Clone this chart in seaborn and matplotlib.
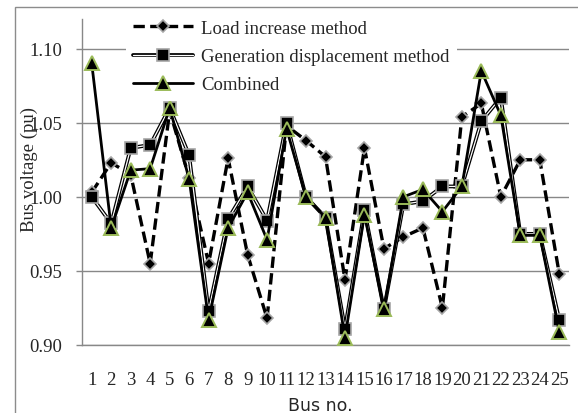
import numpy as np
import pandas as pd
import matplotlib
matplotlib.use("Agg")
import matplotlib.pyplot as plt
import matplotlib.patheffects as pe
from matplotlib.patches import Rectangle
from matplotlib.legend_handler import HandlerTuple
from matplotlib.ticker import FixedLocator, FormatStrFormatter
import seaborn as sns

# Bus voltages (pu)
buses = list(range(1, 26))
load_increase = [1.003, 1.023, 1.015, 0.955, 1.058, 1.013, 0.955, 1.026, 0.961, 0.918,
                 1.048, 1.038, 1.027, 0.944, 1.033, 0.965, 0.973, 0.979, 0.925, 1.054,
                 1.063, 1.000, 1.025, 1.025, 0.948]
gen_displacement = [1.000, 0.982, 1.033, 1.035, 1.060, 1.028, 0.923, 0.985, 1.007, 0.984,
                    1.050, 1.000, 0.986, 0.911, 0.991, 0.924, 0.995, 0.997, 1.007, 1.007,
                    1.051, 1.067, 0.975, 0.975, 0.917]
combined = [1.090, 0.979, 1.018, 1.019, 1.060, 1.012, 0.917, 0.979, 1.003, 0.971,
            1.046, 1.000, 0.986, 0.905, 0.988, 0.924, 1.000, 1.005, 0.990, 1.007,
            1.085, 1.055, 0.974, 0.974, 0.909]
y_ticks = [0.90, 0.95, 1.00, 1.05, 1.10]

df = pd.DataFrame({"bus": buses, "load": load_increase,
                   "gen": gen_displacement, "comb": combined})

sns.set_style("white")
serif = ["Liberation Serif", "DejaVu Serif"]
plt.rcParams["font.family"] = serif
plt.rcParams["font.size"] = 13.5

fig = plt.figure(figsize=(5.78, 4.14), dpi=100)
ax = fig.add_axes([82 / 578, 1 - 346 / 414, 487 / 578, 326 / 414])

grid_col = "#888888"

# load increase: dashed with grey-edged diamonds
sns.lineplot(data=df, x="bus", y="load", ax=ax, color="black", lw=2.4,
             linestyle=(0, (3.4, 1.6)), marker="D", markersize=6.5,
             markerfacecolor="black", markeredgecolor="#a6a6a6",
             markeredgewidth=1.2, zorder=3)
# generation displacement: thin double line, then the square markers
sns.lineplot(data=df, x="bus", y="gen", ax=ax, color="white", lw=0.9,
             path_effects=[pe.Stroke(linewidth=2.7, foreground="black"), pe.Normal()],
             zorder=4)
sns.lineplot(data=df, x="bus", y="gen", ax=ax, linestyle="none",
             marker="s", markersize=8, markerfacecolor="black",
             markeredgecolor="#a6a6a6", markeredgewidth=1.2, zorder=4.5)
# combined: solid with green-edged triangles
sns.lineplot(data=df, x="bus", y="comb", ax=ax, color="black", lw=2.0,
             marker="^", markersize=9.5, markerfacecolor="black",
             markeredgecolor="#9bbb59", markeredgewidth=1.4, zorder=5)

lines = ax.get_lines()
load_line, gen_line, gen_marks, comb_line = lines[0], lines[1], lines[2], lines[3]

ax.set_xlim(0.5, 25.5)
ax.set_ylim(0.90, 1.12)
ax.yaxis.set_major_locator(FixedLocator(y_ticks))
ax.yaxis.set_major_formatter(FormatStrFormatter("%.2f"))
ax.set_xticks(buses)
ax.set_xticklabels([str(b) for b in buses])
ax.xaxis.set_minor_locator(FixedLocator(np.arange(0.5, 26, 1.0)))

ax.grid(axis="y", color=grid_col, lw=1.0)
ax.grid(axis="x", visible=False)
ax.set_axisbelow(True)
for s in ["top", "right"]:
    ax.spines[s].set_visible(False)
for s in ["left", "bottom"]:
    ax.spines[s].set_color(grid_col)
    ax.spines[s].set_linewidth(1.0)

ax.tick_params(axis="x", which="major", length=0, pad=19, labelsize=13.5)
ax.tick_params(axis="x", which="minor", length=4, width=1.0, color=grid_col, direction="out")
ax.tick_params(axis="y", which="major", length=4, width=1.0, color=grid_col,
               direction="out", pad=10, labelsize=13.5, left=True)

ax.set_xlabel("Bus no.", family="DejaVu Sans", fontsize=12.5)
ax.xaxis.set_label_coords(0.49, -0.155)
ax.set_ylabel("Bus voltage (pu)", fontsize=13.5)
ax.yaxis.set_label_coords(-0.09, 0.54)

ax.legend([load_line, (gen_line, gen_marks), comb_line],
          ["Load increase method", "Generation displacement method", "Combined"],
          handler_map={tuple: HandlerTuple(ndivide=1)},
          loc="upper left", bbox_to_anchor=(0.071, 1.05), frameon=True,
          fancybox=False, framealpha=1, facecolor="white", edgecolor="none",
          handlelength=3.2, handletextpad=0.4, labelspacing=0.6,
          borderpad=0.4, prop={"family": serif, "size": 13.5})

fig.patches.append(Rectangle((15 / 578, -0.1), 2, 1.1 - 8 / 414, transform=fig.transFigure,
                             fill=False, edgecolor="#8c8c8c", lw=1.0, zorder=10))

fig.savefig("out.png", dpi=100)
